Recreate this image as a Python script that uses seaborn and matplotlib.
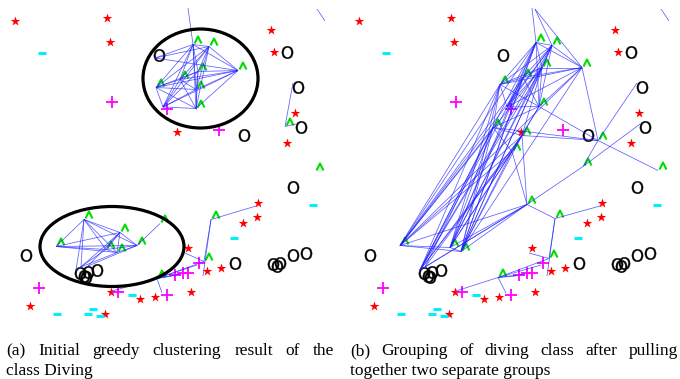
import matplotlib
matplotlib.use("Agg")
import matplotlib.pyplot as plt
import seaborn as sns
from itertools import combinations
from matplotlib.path import Path
from matplotlib.patches import Ellipse
from matplotlib.collections import LineCollection

sns.set_theme(style="white")
plt.rcParams['font.family'] = ['Liberation Serif', 'DejaVu Serif']
plt.rcParams['text.color'] = 'black'

# ---------------- data (panel coordinates, y grows downward) ----------------
# other classes, shared by both panels
star_x = [15, 107, 110, 271, 274, 295, 287, 177, 258, 257, 243, 188, 207, 221, 111, 140, 155, 191, 30, 105]
star_y = [21, 18, 42, 30, 52, 113, 143, 132, 203, 217, 223, 248, 271, 268, 292, 299, 297, 292, 306, 314]
minus_x = [42, 313, 234, 132, 57, 88, 93, 100]
minus_y = [53, 205, 238, 295, 314, 314, 309, 316]
plus_x = [112, 167, 219, 175, 183, 188, 199, 39, 118, 167]
plus_y = [102, 109, 130, 275, 273, 273, 263, 288, 292, 295]
o_x = [159, 244, 287, 298, 301, 293, 26, 235, 273, 277, 280, 293, 306, 80, 84, 88, 86, 97]
o_y = [55, 135, 52, 87, 127, 187, 255, 263, 264, 266, 263, 255, 253, 273, 276, 272, 277, 270]

# diving class samples (graph vertices with a "^" glyph), panel (a)
dive_a_x = [193, 209, 238, 198, 180, 156, 196, 196, 84, 120, 160, 56, 137, 106, 117, 211, 204, 157, 285, 315]
dive_a_y = [44.5, 46.5, 70.5, 71.5, 79.5, 87.5, 89.5, 108.5, 219.5, 232.5, 223.5, 246.5, 245.5, 249.5, 252.5,
            219.5, 261.5, 278.5, 126.5, 171.5]
# diving class samples, panel (b)
dive_b_x = [192, 208, 238, 198, 179, 156, 195, 149, 178, 168, 254, 239, 183, 211, 56, 106, 117, 205, 154, 314]
dive_b_y = [42.5, 45.5, 67.5, 67.5, 77.5, 84.5, 106.5, 127.5, 135.5, 151.5, 140.5, 166.5, 204.5, 218.5,
            245.5, 247.5, 251.5, 258.5, 277.5, 170.5]

# graph vertices hidden under other glyphs or outside the view (indices 100+)
aux_x = [188, 163, 155, 76, 81, 88, 256, 203, 185, 112, 162, 172, 181, 197, 293, 296, 317, 325, 191]
aux_y = [8, 107, 58, 270, 267, 266, 206, 276, 253, 291, 293, 276, 274, 265, 83, 124, 9, 21, 9]

# graph edges: fully connected groups, bipartite bundles, single edges
cliques_a = [[0, 1, 2, 3, 4, 5, 6, 7, 101], [8, 9, 11, 12, 13, 14]]
bundles_a = []
edges_a = [(0, 100), (102, 0), (102, 1), (102, 2), (10, 12),
           (8, 103), (8, 104), (9, 104), (9, 105), (13, 103), (14, 104), (12, 105),
           (15, 106), (15, 16), (15, 107), (108, 16), (17, 16), (17, 111), (17, 112), (17, 113),
           (17, 109), (17, 110), (18, 114), (18, 115), (116, 117)]

cliques_b = [[0, 1, 2, 3, 4, 5, 6, 101]]
bundles_b = [([14, 15, 16, 103], [0, 1, 3, 4, 5, 7, 8, 9])]
edges_b = [(0, 100), (2, 118), (1, 118), (14, 2), (16, 2),
           (7, 5), (7, 6), (7, 8), (7, 10), (8, 6), (8, 9), (8, 10), (8, 3), (9, 7), (9, 6),
           (10, 2), (10, 6), (10, 114), (10, 19), (11, 10), (11, 115), (11, 12),
           (12, 8), (12, 9), (12, 13), (12, 14), (12, 15), (12, 16), (12, 103), (12, 104),
           (104, 7), (104, 8),
           (13, 106), (13, 107), (13, 17), (17, 108), (18, 17), (18, 111), (18, 112), (18, 113),
           (18, 109), (18, 110), (14, 15), (14, 16), (15, 16), (116, 117)]

# highlighted groups in panel (a)
ell_cx = [200.5, 112]
ell_cy = [78.5, 246.5]
ell_w = [115, 144]
ell_h = [99, 80]

caption_a = ["(a) Initial greedy clustering result of the", "class Diving"]
caption_b = ["(b) Grouping of diving class after pulling", "together two separate groups"]

# ---------------- figure ----------------
W, H = 680, 379
PW, PH = 335, 320
fig = plt.figure(figsize=(W / 100, H / 100), dpi=100)
fig.patch.set_facecolor("white")
ax_a = fig.add_axes([0 / W, 1 - PH / H, PW / W, PH / H])
ax_b = fig.add_axes([344 / W, 1 - PH / H, PW / W, PH / H])

RED, CYAN, MAGENTA, GREEN, BLUE = "#ff0000", "#00f0f8", "#ff00ff", "#00dd00", "#2020ff"
caret = Path([(1.5, 1.0), (5.0, 8.0), (8.5, 1.0)], [Path.MOVETO, Path.LINETO, Path.LINETO])
caret_s = (2 * 8.5 * 0.72) ** 2


def node(i, dx, dy):
    if i >= 100:
        return (aux_x[i - 100], aux_y[i - 100])
    return (dx[i], dy[i])


def draw_panel(ax, dx, dy, cliques, bundles, edges, ellipses):
    sns.scatterplot(x=star_x, y=star_y, marker="*", s=52, color=RED, linewidth=0, ax=ax, zorder=2)
    sns.scatterplot(x=minus_x, y=minus_y, marker="_", s=34, color=CYAN, linewidth=2.2, ax=ax, zorder=2)
    sns.scatterplot(x=plus_x, y=plus_y, marker="+", s=66, color=MAGENTA, linewidth=1.3, ax=ax, zorder=2)
    sns.scatterplot(x=o_x, y=o_y, marker="$\\mathsf{O}$", s=82, color="black", edgecolor="black",
                    linewidth=0.25, ax=ax, zorder=2)
    sns.scatterplot(x=dx, y=dy, marker=caret, s=caret_s, color=GREEN, facecolor="none",
                    edgecolor=GREEN, linewidth=1.5, ax=ax, zorder=2)

    pairs = list(edges)
    for grp in cliques:
        pairs += list(combinations(grp, 2))
    for lo, hi in bundles:
        pairs += [(i, j) for i in lo for j in hi]
    segs = [[node(i, dx, dy), node(j, dx, dy)] for i, j in pairs]
    ax.add_collection(LineCollection(segs, colors=BLUE, linewidths=0.55, alpha=0.72, zorder=3))

    if ellipses:
        for cx, cy, w, h in zip(ell_cx, ell_cy, ell_w, ell_h):
            ax.add_patch(Ellipse((cx, cy), w, h, fill=False, edgecolor="black", linewidth=2.3, zorder=4))

    ax.set_xlim(0, PW)
    ax.set_ylim(PH, 0)
    ax.axis("off")


draw_panel(ax_a, dive_a_x, dive_a_y, cliques_a, bundles_a, edges_a, True)
draw_panel(ax_b, dive_b_x, dive_b_y, cliques_b, bundles_b, edges_b, False)

# ---------------- captions (first line justified) ----------------
FS = 12.5
renderer = fig.canvas.get_renderer()


def caption(lines, x0, x1):
    words = lines[0].split(" ")
    texts = [fig.text(0, 0, w, fontsize=FS, ha="left", va="baseline", color="black") for w in words]
    widths = [t.get_window_extent(renderer).width for t in texts]
    gap = (x1 - x0 - sum(widths)) / (len(words) - 1)
    x = x0
    for t, wd in zip(texts, widths):
        t.set_position((x / W, 1 - 355 / H))
        x += wd + gap
    fig.text(x0 / W, 1 - 375 / H, lines[1], fontsize=FS, ha="left", va="baseline", color="black")


caption(caption_a, 6, 334)
caption(caption_b, 350, 678)

fig.savefig("out.png", dpi=100, facecolor="white")
